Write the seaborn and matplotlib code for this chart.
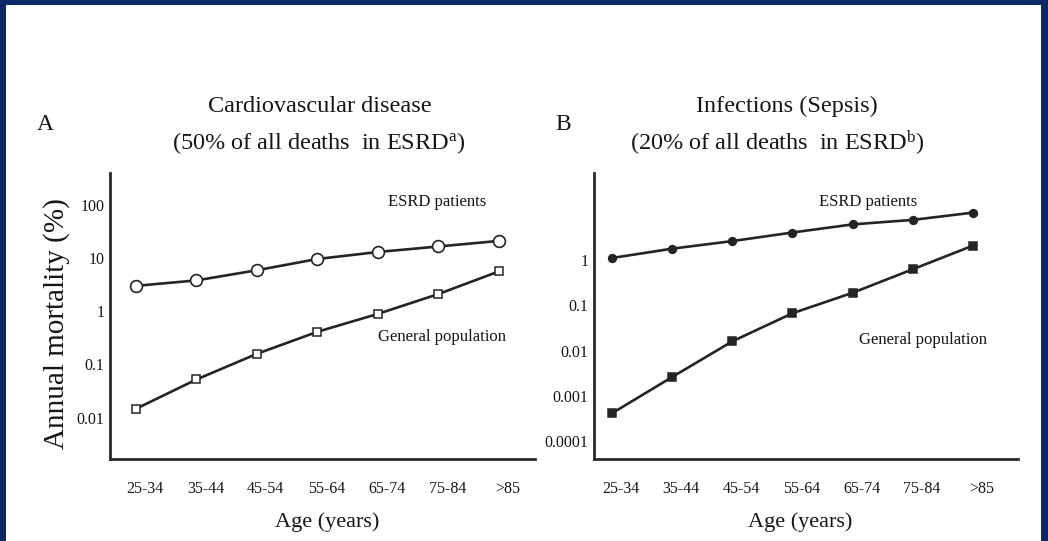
import numpy as np
import pandas as pd
import matplotlib
matplotlib.use("Agg")
import matplotlib.pyplot as plt
from matplotlib.patches import Rectangle
from matplotlib.transforms import ScaledTranslation
import seaborn as sns

# Age groups and annual mortality (%) per group
age_groups = ["25-34", "35-44", "45-54", "55-64", "65-74", "75-84", ">85"]

cvd_esrd = [3.0, 3.8, 5.9, 9.6, 13.0, 16.5, 21.0]
cvd_general = [0.0146, 0.052, 0.158, 0.41, 0.89, 2.1, 5.6]

sepsis_esrd = [1.12, 1.8, 2.65, 4.1, 6.2, 7.8, 11.3]
sepsis_general = [0.00041, 0.0026, 0.016, 0.067, 0.19, 0.63, 2.1]

cvd_ticks = [0.01, 0.1, 1, 10, 100]
cvd_tick_labels = ["0.01", "0.1", "1", "10", "100"]
sepsis_ticks = [0.0001, 0.001, 0.01, 0.1, 1]
sepsis_tick_labels = ["0.0001", "0.001", "0.01", "0.1", "1"]

sns.set_style("white")
plt.rcParams["font.family"] = ["Liberation Serif", "DejaVu Serif"]
plt.rcParams["mathtext.fontset"] = "custom"
plt.rcParams["mathtext.rm"] = "Liberation Serif"
plt.rcParams["mathtext.it"] = "Liberation Serif:italic"

INK = "#161616"
LINE = "#242424"
W, H = 1048, 541

fig = plt.figure(figsize=(W / 100, H / 100), dpi=100)
fig.patch.set_facecolor("white")


def px_rect(x0, y0, x1, y1):
    """Axes rectangle from pixel edges (y measured from the top)."""
    return [x0 / W, 1 - y1 / H, (x1 - x0) / W, (y1 - y0) / H]


ax_a = fig.add_axes(px_rect(110, 173, 535, 459))
ax_b = fig.add_axes(px_rect(594, 173, 1018, 459))

pos = np.arange(len(age_groups))


def draw_panel(ax, esrd, general, filled, ticks, tick_labels, ylim, xlim):
    df = pd.DataFrame({"pos": np.concatenate([pos, pos]),
                       "val": list(esrd) + list(general),
                       "grp": ["ESRD"] * len(pos) + ["General"] * len(pos)})
    face = LINE if filled else "white"
    sns.lineplot(data=df[df.grp == "ESRD"], x="pos", y="val", ax=ax,
                 color=LINE, lw=1.9, marker="o",
                 markersize=5.5 if filled else 8.5,
                 markerfacecolor=face, markeredgecolor=LINE,
                 markeredgewidth=1.2, legend=False)
    sns.lineplot(data=df[df.grp == "General"], x="pos", y="val", ax=ax,
                 color=LINE, lw=1.9, marker="s",
                 markersize=5.5 if filled else 6.0,
                 markerfacecolor=face, markeredgecolor=LINE,
                 markeredgewidth=1.1, legend=False)
    ax.set_yscale("log")
    ax.set_ylim(*ylim)
    ax.set_xlim(*xlim)
    ax.set_yticks(ticks)
    ax.set_yticklabels(tick_labels)
    ax.minorticks_off()
    ax.set_xticks(pos)
    ax.set_xticklabels(age_groups)
    ax.tick_params(axis="both", length=0, labelsize=11.5, colors=INK)
    ax.tick_params(axis="x", pad=16)
    ax.tick_params(axis="y", pad=4)
    # age labels sit a little right of their points
    shift = ScaledTranslation(9 / 100, 0, fig.dpi_scale_trans)
    for lab in ax.get_xticklabels():
        lab.set_transform(lab.get_transform() + shift)
    for side in ("top", "right"):
        ax.spines[side].set_visible(False)
    for side in ("left", "bottom"):
        ax.spines[side].set_color("#2b2b2b")
        ax.spines[side].set_linewidth(2.0)
    ax.set_xlabel("Age (years)", fontsize=16, color=INK)
    ax.set_ylabel("")
    ax.set_facecolor("white")


draw_panel(ax_a, cvd_esrd, cvd_general, False, cvd_ticks, cvd_tick_labels,
           (10 ** -2.78, 10 ** 2.6), (-0.43, 6.6))
draw_panel(ax_b, sepsis_esrd, sepsis_general, True, sepsis_ticks,
           sepsis_tick_labels, (10 ** -4.4, 10 ** 1.93), (-0.3, 6.75))

ax_a.xaxis.set_label_coords(0.51, -0.185)
ax_b.xaxis.set_label_coords(0.486, -0.185)

ax_a.set_ylabel("Annual mortality (%)", fontsize=21, color=INK)
ax_a.yaxis.set_label_coords(-0.094, 0.475)

# Series labels (pixel coordinates, y from the top)
series_labels = [
    (ax_a, 437, 202, "ESRD patients"),
    (ax_a, 442, 337, "General population"),
    (ax_b, 868, 202, "ESRD patients"),
    (ax_b, 923, 340, "General population"),
]
for ax, x, y, s in series_labels:
    ax.text(x, H - y, s, transform=None, fontsize=12, color=INK,
            ha="center", va="center")

# Panel letters and titles
fig.text(45 / W, 1 - 125 / H, "A", fontsize=17, color=INK, ha="center", va="center")
fig.text(563 / W, 1 - 125 / H, "B", fontsize=17, color=INK, ha="center", va="center")

fig.text(320 / W, 1 - 106 / H, "Cardiovascular disease", fontsize=17.5,
         color=INK, ha="center", va="center")
fig.text(319 / W, 1 - 143 / H, r"(50% of all deaths  in ESRD$^{\mathrm{a}}$)",
         fontsize=17.5, color=INK, ha="center", va="center")
fig.text(787 / W, 1 - 106 / H, "Infections (Sepsis)", fontsize=17.5,
         color=INK, ha="center", va="center")
fig.text(777 / W, 1 - 143 / H, r"(20% of all deaths  in ESRD$^{\mathrm{b}}$)",
         fontsize=17.5, color=INK, ha="center", va="center")

# Navy frame along the top and sides
NAVY = "#0a2867"
for x0, y0, x1, y1 in [(0, 0, W, 5), (0, 0, 6, H), (W - 7, 0, W, H)]:
    fig.patches.append(Rectangle((x0 / W, 1 - y1 / H), (x1 - x0) / W,
                                 (y1 - y0) / H, transform=fig.transFigure,
                                 facecolor=NAVY, edgecolor="none", zorder=10))

fig.savefig("out.png", dpi=100, facecolor="white")
